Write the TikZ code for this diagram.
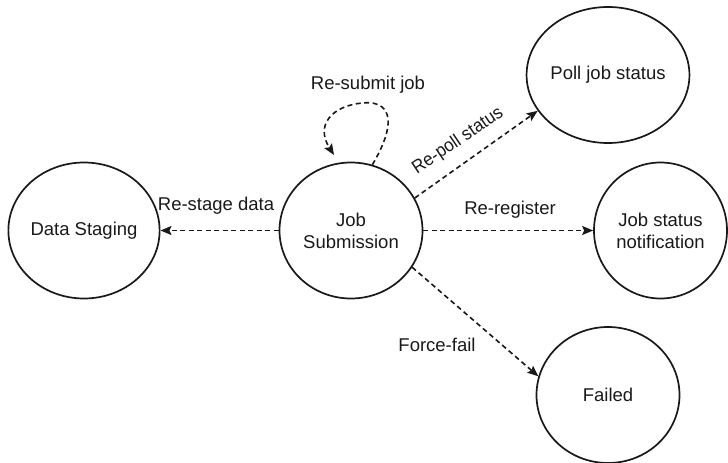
\documentclass[tikz,border=0pt]{standalone}
\usepackage{fontspec}
\setmainfont{Liberation Sans}
\usetikzlibrary{shapes.geometric,arrows.meta}
\begin{document}
\begin{tikzpicture}[x=1pt,y=-1pt,
  state/.style={ellipse,draw=black!90,line width=1.7pt,minimum width=143pt,
    minimum height=136pt,inner sep=0pt,align=center,
    font=\fontsize{18.5pt}{22pt}\selectfont,text=black!90},
  lbl/.style={inner sep=0pt,font=\fontsize{18.5pt}{22pt}\selectfont,text=black!90},
  trans/.style={draw=black!90,line width=1.6pt,dash pattern=on 5pt off 3.5pt,
    -{Stealth[length=11pt,width=9pt,inset=2pt]}}]
\useasboundingbox (0,0) rectangle (728,463);

% states
\node[state] (ds)   at (84,230.5)  {Data Staging};
\node[state] (js)   at (351,230.5) {Job\\Submission};
\node[state] (poll) at (608,75)    {Poll job status};
\node[state,minimum width=133pt] (jsn) at (660.5,230.5) {Job status\\notification};
\node[state] (fail) at (608,395)   {Failed};

% transitions
\coordinate (loopend) at (334,155);
\draw[trans] (js.72) .. controls (400,118) and (388,100) .. (362,103)
  .. controls (332,106) and (315,125) .. (loopend);
\draw[trans] (js.180) -- (ds.0);
\draw[trans] (js.27) -- (poll.207);
\draw[trans] (js.0) -- (jsn.180);
\draw[trans] (js.-31) -- (fail.165);

% transition labels
\node[lbl] (lresubmit) at (368,85)  {Re-submit job};
\node[lbl] (lrestage)  at (216,206) {Re-stage data};
\node[lbl,rotate=34,xscale=0.93] (lrepoll) at (458,141) {Re-poll status};
\node[lbl] (lreg)      at (510,210) {Re-register};
\node[lbl] (lfail)     at (437,345) {Force-fail};
\end{tikzpicture}
\end{document}
